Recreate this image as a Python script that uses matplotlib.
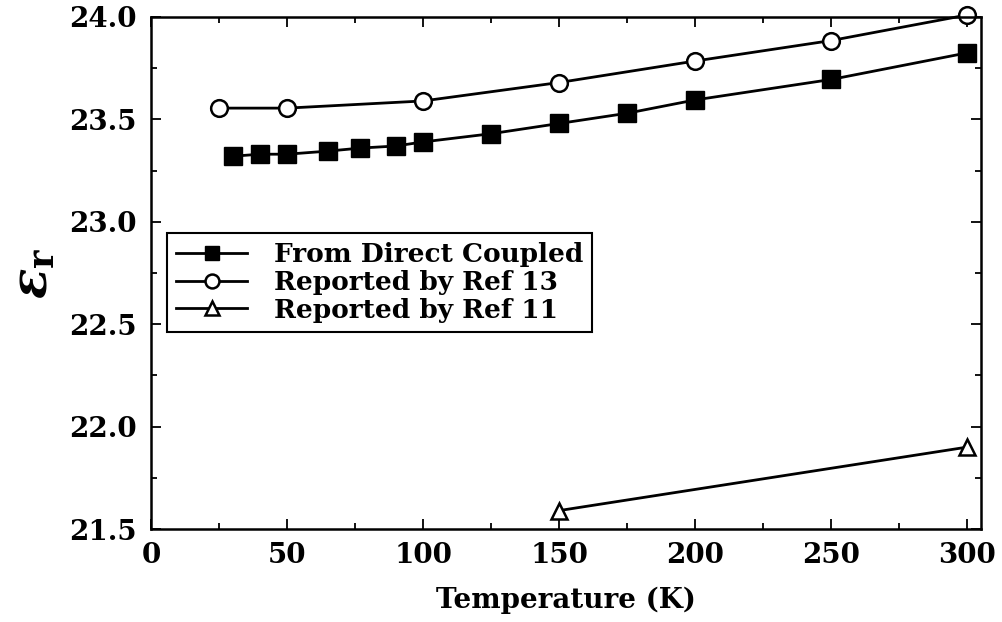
import matplotlib
matplotlib.use("Agg")
import matplotlib.pyplot as plt
from matplotlib.ticker import MultipleLocator

# permittivity vs temperature
t_direct = [30, 40, 50, 65, 77, 90, 100, 125, 150, 175, 200, 250, 300]
eps_direct = [23.32, 23.33, 23.33, 23.345, 23.36, 23.37, 23.39,
              23.43, 23.48, 23.53, 23.595, 23.695, 23.825]

t_ref13 = [25, 50, 100, 150, 200, 250, 300]
eps_ref13 = [23.555, 23.555, 23.59, 23.68, 23.785, 23.885, 24.01]

t_ref11 = [150, 300]
eps_ref11 = [21.59, 21.9]

labels = ["From Direct Coupled", "Reported by Ref 13", "Reported by Ref 11"]

plt.rcParams["font.family"] = "DejaVu Serif"
plt.rcParams["font.weight"] = "bold"
plt.rcParams["mathtext.fontset"] = "dejavuserif"


def main():
    fig = plt.figure(figsize=(10.03, 6.22), dpi=100)
    ax = fig.add_axes([0.1505, 0.1495, 0.8275, 0.8232])

    lw = 2.0
    ax.plot(t_direct, eps_direct, color="black", lw=lw, marker="s",
            markersize=13, markerfacecolor="black", label=labels[0])
    ax.plot(t_ref13, eps_ref13, color="black", lw=lw, marker="o",
            markersize=12, markerfacecolor="white", markeredgewidth=1.8,
            label=labels[1], clip_on=False)
    ax.plot(t_ref11, eps_ref11, color="black", lw=lw, marker="^",
            markersize=11, markerfacecolor="white", markeredgewidth=1.8,
            label=labels[2])

    ax.set_xlim(0, 305)
    ax.set_ylim(21.5, 24.0)
    ax.xaxis.set_major_locator(MultipleLocator(50))
    ax.xaxis.set_minor_locator(MultipleLocator(25))
    ax.yaxis.set_major_locator(MultipleLocator(0.5))
    ax.yaxis.set_minor_locator(MultipleLocator(0.25))
    ax.yaxis.set_major_formatter(plt.FormatStrFormatter("%.1f"))

    ax.tick_params(which="both", direction="in", top=True, right=True,
                   width=1.3, labelsize=20)
    ax.tick_params(which="major", length=7)
    ax.tick_params(which="minor", length=4.5)
    ax.tick_params(axis="x", pad=9)
    ax.tick_params(axis="y", pad=10)
    for s in ax.spines.values():
        s.set_linewidth(1.8)

    ax.set_xlabel("Temperature (K)", fontsize=20, fontweight="bold",
                  labelpad=13)
    ax.set_ylabel(r"$\varepsilon_\mathbf{r}$", fontsize=36, labelpad=8)

    leg = ax.legend(loc="upper left", bbox_to_anchor=(0.1665, 0.6254),
                    bbox_transform=fig.transFigure, fontsize=19,
                    frameon=True, fancybox=False, edgecolor="black",
                    framealpha=1, borderaxespad=0, borderpad=0.35,
                    labelspacing=0.1, handlelength=2.7, handletextpad=1.0)
    leg.get_frame().set_linewidth(1.5)
    for h in leg.legend_handles:
        h.set_markersize(10)

    fig.savefig("out.png", dpi=100)


if __name__ == "__main__":
    main()
